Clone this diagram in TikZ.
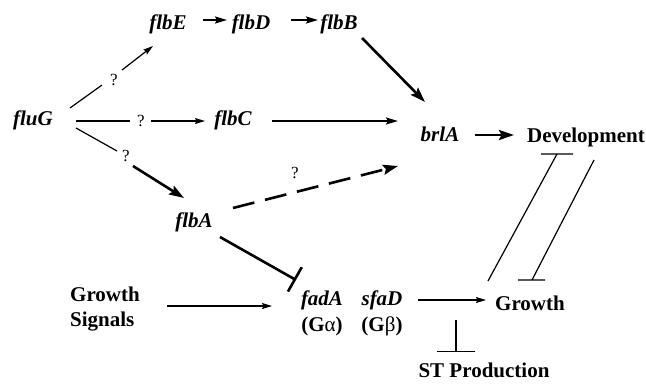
\documentclass[tikz,border=0pt]{standalone}
\usepackage{fontspec}
\setmainfont{Liberation Serif}
\usetikzlibrary{arrows.meta,calc}
\tikzset{
  lbl/.style={inner sep=0pt, font=\fontsize{21}{25}\selectfont\bfseries},
  gene/.style={lbl, font=\fontsize{21}{25}\selectfont\bfseries\itshape},
  qmark/.style={inner sep=0pt, font=\fontsize{17}{20}\selectfont\mdseries},
  thinline/.style={line width=1.2pt},
  thinarr/.style={line width=1.2pt, -{Stealth[length=10pt,width=6pt,inset=1.5pt]}},
  midarr/.style={line width=1.9pt, -{Stealth[length=12pt,width=7pt,inset=2pt]}},
  thickarr/.style={line width=2.6pt, -{Stealth[length=15pt,width=10pt,inset=2.5pt]}},
  thickbar/.style={line width=2.6pt, -{Bar[width=28pt,line width=2.6pt]}},
  thinbar/.style={line width=1.2pt, -{Bar[width=38pt,line width=1.4pt]}},
}
\begin{document}
\begin{tikzpicture}[x=1pt,y=-1pt]
\useasboundingbox (0,0) rectangle (646,384);

% gene names
\node[gene] (fluG) at (33,120) {fluG};
\node[gene] (flbE) at (168,24) {flbE};
\node[gene] (flbD) at (251,24) {flbD};
\node[gene] (flbB) at (339,24) {flbB};
\node[gene] (flbC) at (233,120) {flbC};
\node[gene] (brlA) at (440,134) {brlA};
\node[gene] (flbA) at (194,222) {flbA};
\node[gene] (fadA) at (322,300) {fadA};
\node[gene] (sfaD) at (382,300) {sfaD};
\node[lbl] (Ga) at (322,326) {(G{\mdseries α})};
\node[lbl] (Gb) at (382,326) {(G{\mdseries β})};

% processes
\node[lbl] (Dev) at (586,137) {Development};
\node[lbl] (Growth) at (530,303) {Growth};
\node[lbl, align=left] (GS) at (105,309) {Growth\\Signals};
\node[lbl] (ST) at (484,370) {ST Production};

% uncertain links
\node[qmark] (q1) at (114,80) {?};
\node[qmark] (q2) at (141,121) {?};
\node[qmark] (q3) at (126,156) {?};
\node[qmark] (q4) at (295,173) {?};

% fluG branches
\draw[thinline] ($(fluG)+(37,-12)$) -- ($(q1)+(-12,5)$);
\draw[thinarr] ($(q1)+(8,-10)$) -- ($(flbE)+(-15,22)$);
\draw[thinline] ($(fluG)+(43,1)$) -- ($(q2)+(-11,0)$);
\draw[thinarr] ($(q2)+(10,0)$) -- ($(flbC)+(-28,1)$);
\draw[thinline] ($(fluG)+(43,8)$) -- ($(q3)+(-9,-5)$);
\draw[thickarr] ($(q3)+(7,10)$) -- ($(flbA)+(-10,-24)$);

% flbE -> flbD -> flbB -> brlA
\draw[midarr] ($(flbE)+(35,-4)$) -- ($(flbD)+(-24,-4)$);
\draw[midarr] ($(flbD)+(40,-4)$) -- ($(flbB)+(-21,-4)$);
\draw[thickarr] ($(flbB)+(23,14)$) -- ($(brlA)+(-15,-32)$);

% flbC -> brlA, flbA --> brlA
\draw[midarr] ($(flbC)+(39,1)$) -- ($(brlA)+(-42,-13)$);
\draw[thickarr, dash pattern=on 22pt off 11pt] ($(flbA)+(39,-14)$) -- ($(brlA)+(-42,32)$);

% brlA -> Development
\draw[thickarr] ($(brlA)+(35,1)$) -- ($(Dev)+(-72,-2)$);

% flbA -| fadA
\draw[thickbar] ($(flbA)+(26,15)$) -- ($(fadA)+(-26,-20)$);

% growth signalling
\draw[thinarr] ($(GS)+(62,-3)$) -- ($(fadA)+(-50,6)$);
\draw[thinarr] ($(sfaD)+(36,0)$) -- ($(Growth)+(-44,-3)$);

% inhibition of ST production
\coordinate (stTop) at (456,320);
\draw[thinbar] (stTop) -- ($(ST)+(-28,-18)$);

% mutual inhibition of Growth and Development
\draw[thinline] ($(Growth)+(-42,-22)$) -- ($(Dev)+(-29,17)$) ++(-16,0) -- ++(32,0);
\draw[thinline] ($(Dev)+(8,23)$) -- ($(Growth)+(2,-23)$) ++(-14,0) -- ++(27,0);
\end{tikzpicture}
\end{document}
